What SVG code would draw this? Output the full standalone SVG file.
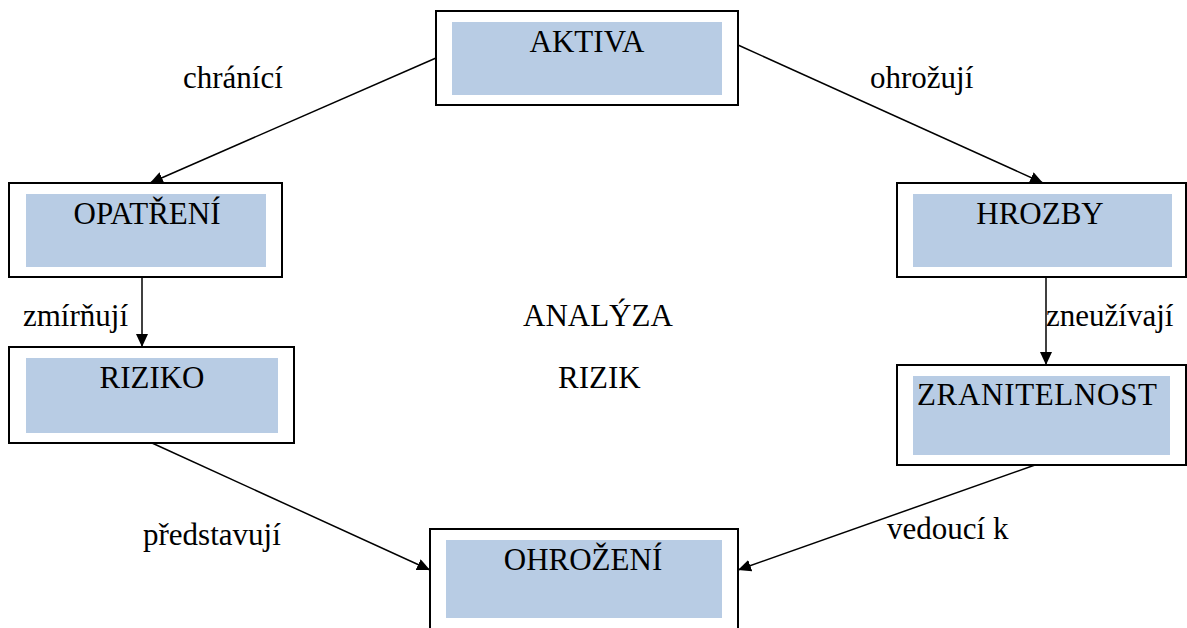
<svg xmlns="http://www.w3.org/2000/svg" width="1187" height="628" viewBox="0 0 1187 628">
<style>
.box{fill:#fff;stroke:#000;stroke-width:2}
.fill{fill:#b8cce4}
.t{font-family:"Liberation Serif","Times New Roman",serif;font-size:31px;fill:#000}
.c{text-anchor:middle}
.edge{stroke:#000;stroke-width:1.5;fill:none;marker-end:url(#ah)}
</style>
<defs>
<marker id="ah" markerUnits="userSpaceOnUse" markerWidth="14" markerHeight="12" refX="13" refY="6" orient="auto">
<path d="M0,0 L13,6 L0,12 z" fill="#000"/>
</marker>
</defs>
<g id="connectors">
<line class="edge" x1="436" y1="58" x2="150" y2="183"/>
<line class="edge" x1="738" y1="45" x2="1043" y2="183"/>
<line class="edge" x1="142" y1="277" x2="142" y2="347"/>
<line class="edge" x1="1046" y1="277" x2="1046" y2="365"/>
<line class="edge" x1="152" y1="443" x2="430" y2="570"/>
<line class="edge" x1="1035" y1="465" x2="738" y2="570"/>
</g>
<g id="aktiva">
<rect class="box" x="436" y="11" width="302" height="94"/>
<rect class="fill" x="452" y="22" width="270" height="73"/>
<text class="t c" x="587" y="52">AKTIVA</text>
</g>
<g id="opatreni">
<rect class="box" x="9" y="183" width="273" height="94"/>
<rect class="fill" x="26" y="194" width="240" height="73"/>
<text class="t c" x="147" y="224">OPATŘENÍ</text>
</g>
<g id="hrozby">
<rect class="box" x="897" y="183" width="289" height="94"/>
<rect class="fill" x="913" y="194" width="259" height="73"/>
<text class="t c" x="1040" y="224">HROZBY</text>
</g>
<g id="riziko">
<rect class="box" x="9" y="347" width="285" height="96"/>
<rect class="fill" x="26" y="358" width="252" height="75"/>
<text class="t c" x="152" y="388">RIZIKO</text>
</g>
<g id="zranitelnost">
<rect class="box" x="897" y="365" width="289" height="100"/>
<rect class="fill" x="913" y="376" width="257" height="79"/>
<text class="t" x="917" y="405" textLength="240">ZRANITELNOST</text>
</g>
<g id="ohrozeni">
<rect class="box" x="430" y="529" width="308" height="110"/>
<rect class="fill" x="446" y="540" width="276" height="78"/>
<text class="t c" x="583" y="570">OHROŽENÍ</text>
</g>
<g id="labels">
<text class="t" x="183" y="88">chránící</text>
<text class="t" x="870" y="88">ohrožují</text>
<text class="t" x="23" y="326">zmírňují</text>
<text class="t" x="1046" y="326">zneužívají</text>
<text class="t" x="143" y="545">představují</text>
<text class="t" x="887" y="539">vedoucí k</text>
<text class="t" x="523" y="326">ANALÝZA</text>
<text class="t" x="558" y="388">RIZIK</text>
</g>
</svg>
